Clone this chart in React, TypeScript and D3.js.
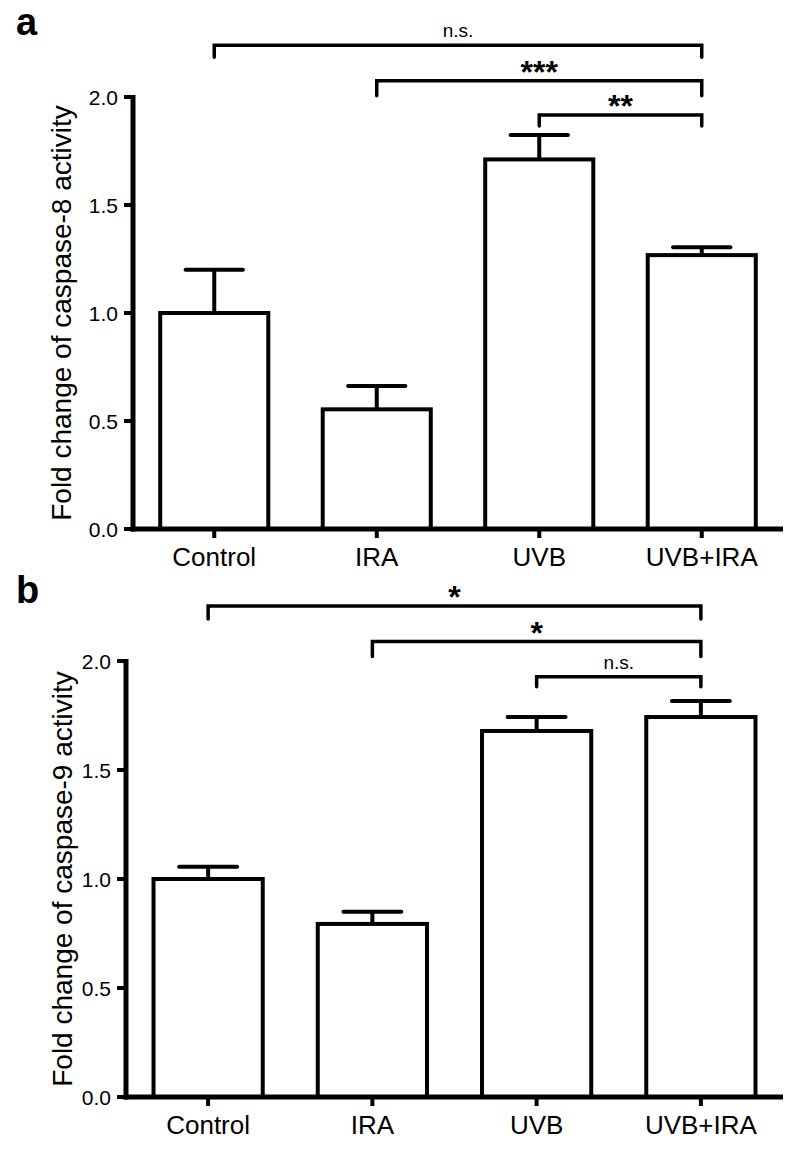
import React from "react";
import * as d3 from "d3";

const categories = ["Control", "IRA", "UVB", "UVB+IRA"];
const casp8Mean = [1.0, 0.554, 1.711, 1.268];
const casp8Sem = [0.2, 0.108, 0.113, 0.036];
const casp9Mean = [1.0, 0.794, 1.679, 1.743];
const casp9Sem = [0.056, 0.056, 0.064, 0.074];
const yTicks = [0, 0.5, 1.0, 1.5, 2.0];

const casp8From = ["Control", "IRA", "UVB"];
const casp8To = ["UVB+IRA", "UVB+IRA", "UVB+IRA"];
const casp8Labels = ["n.s.", "***", "**"];
const casp8Levels = [2.24, 2.075, 1.917];

const casp9From = ["Control", "IRA", "UVB"];
const casp9To = ["UVB+IRA", "UVB+IRA", "UVB+IRA"];
const casp9Labels = ["*", "*", "n.s."];
const casp9Levels = [2.252, 2.089, 1.928];

const FONT = "'Liberation Sans', Arial, Helvetica, sans-serif";

type PanelProps = {
  letter: string;
  letterY: number;
  title: string;
  means: number[];
  sems: number[];
  from: string[];
  to: string[];
  labels: string[];
  levels: number[];
  drops: number[];
  x0: number;
  x1: number;
  yTop: number;
  yBottom: number;
  titleX: number;
};

function Panel(p: PanelProps) {
  const x = d3
    .scaleBand<string>()
    .domain(categories)
    .range([p.x0, p.x1])
    .paddingInner(0.335)
    .paddingOuter(0.1675);
  const y = d3.scaleLinear().domain([0, 2]).range([p.yBottom, p.yTop]);
  const bw = x.bandwidth();
  const capW = bw * 0.53;
  const fmt = d3.format(".1f");

  return (
    <g>
      <text
        x={16}
        y={p.letterY}
        fontFamily={FONT}
        fontWeight="bold"
        fontSize={38}
        fill="#000"
      >
        {p.letter}
      </text>
      {/* y title */}
      <text
        transform={`translate(${p.titleX},${(p.yTop + p.yBottom) / 2}) rotate(-90)`}
        textAnchor="middle"
        fontFamily={FONT}
        fontSize={28}
        fill="#000"
      >
        {p.title}
      </text>
      {/* error bars */}
      {categories.map((c, i) => {
        const cx = (x(c) as number) + bw / 2;
        return (
          <g key={"e" + c} stroke="#000" strokeWidth={4} fill="none">
            <line x1={cx} x2={cx} y1={y(p.means[i])} y2={y(p.means[i] + p.sems[i])} strokeLinecap="butt" />
            <line
              x1={cx - capW / 2}
              x2={cx + capW / 2}
              y1={y(p.means[i] + p.sems[i])}
              y2={y(p.means[i] + p.sems[i])}
              strokeLinecap="round"
            />
          </g>
        );
      })}
      {/* bars */}
      {categories.map((c, i) => (
        <rect
          key={"b" + c}
          x={x(c) as number}
          y={y(p.means[i])}
          width={bw}
          height={y(0) - y(p.means[i])}
          fill="#fff"
          stroke="#000"
          strokeWidth={4}
        />
      ))}
      {/* y axis */}
      <line x1={p.x0} x2={p.x0} y1={y(2) - 2} y2={y(0) + 2.5} stroke="#000" strokeWidth={5} />
      {yTicks.map((t) => (
        <g key={"t" + t}>
          <line x1={p.x0 - 9} x2={p.x0} y1={y(t)} y2={y(t)} stroke="#000" strokeWidth={4} />
          <text
            x={p.x0 - 15}
            y={y(t)}
            dy="0.36em"
            textAnchor="end"
            fontFamily={FONT}
            fontSize={21}
            fill="#000"
          >
            {fmt(t)}
          </text>
        </g>
      ))}
      {/* x axis */}
      <line x1={p.x0 - 2.5} x2={p.x1} y1={y(0)} y2={y(0)} stroke="#000" strokeWidth={5} />
      {categories.map((c) => {
        const cx = (x(c) as number) + bw / 2;
        return (
          <g key={"x" + c}>
            <line x1={cx} x2={cx} y1={y(0)} y2={y(0) + 9} stroke="#000" strokeWidth={4} />
            <text
              x={cx}
              y={y(0) + 37}
              textAnchor="middle"
              fontFamily={FONT}
              fontSize={26}
              fill="#000"
            >
              {c}
            </text>
          </g>
        );
      })}
      {/* significance brackets */}
      {p.labels.map((lab, i) => {
        const xa = (x(p.from[i]) as number) + bw / 2;
        const xb = (x(p.to[i]) as number) + bw / 2;
        const ly = y(p.levels[i]);
        const isStar = lab.indexOf("*") >= 0;
        return (
          <g key={"s" + i}>
            <path
              d={`M${xa},${ly + p.drops[i]}V${ly}H${xb}V${ly + p.drops[i]}`}
              fill="none"
              stroke="#000"
              strokeWidth={3.5}
              strokeLinecap="round"
            />
            <text
              x={(xa + xb) / 2}
              y={isStar ? ly + 2 : ly - 8}
              textAnchor="middle"
              fontFamily={FONT}
              fontWeight={isStar ? "bold" : "normal"}
              fontSize={isStar ? 32 : 19}
              fill="#000"
            >
              {lab}
            </text>
          </g>
        );
      })}
    </g>
  );
}

export default function App() {
  return (
    <svg
      width={800}
      height={1152}
      viewBox="0 0 800 1152"
      style={{ position: "absolute", left: 0, top: 0, display: "block", background: "#fff" }}
    >
      <rect x={0} y={0} width={800} height={1152} fill="#fff" />
      <Panel
        letter="a"
        letterY={35}
        title="Fold change of caspase-8 activity"
        means={casp8Mean}
        sems={casp8Sem}
        from={casp8From}
        to={casp8To}
        labels={casp8Labels}
        levels={casp8Levels}
        drops={[12, 15, 11]}
        x0={133}
        x1={783}
        yTop={97}
        yBottom={529}
        titleX={71}
      />
      <Panel
        letter="b"
        letterY={603}
        title="Fold change of caspase-9 activity"
        means={casp9Mean}
        sems={casp9Sem}
        from={casp9From}
        to={casp9To}
        labels={casp9Labels}
        levels={casp9Levels}
        drops={[13, 15, 10]}
        x0={126}
        x1={783}
        yTop={661}
        yBottom={1097}
        titleX={72}
      />
    </svg>
  );
}
